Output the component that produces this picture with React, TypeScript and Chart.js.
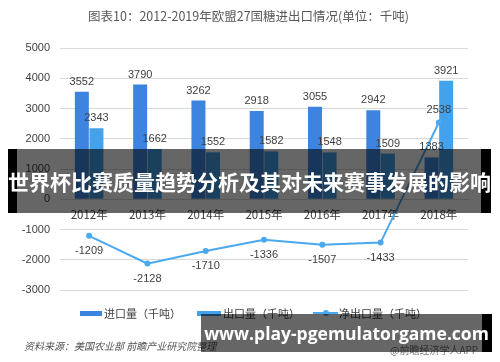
import React, { useEffect, useRef } from "react";
import { Chart, registerables } from "chart.js";

Chart.register(...registerables);

const categories = ["2012年", "2013年", "2014年", "2015年", "2016年", "2017年", "2018年"];
const importValues = [3552, 3790, 3262, 2918, 3055, 2942, 1383];
const exportValues = [2343, 1662, 1552, 1582, 1548, 1509, 3921];
const netExportValues = [-1209, -2128, -1710, -1336, -1507, -1433, 2538];
const seriesNames = ["进口量（千吨）", "出口量（千吨）", "净出口量（千吨）"];
const titleText = "图表10：2012-2019年欧盟27国糖进出口情况(单位：千吨)";
const sourceText = "资料来源：美国农业部 前瞻产业研究院整理";
const bannerText = "世界杯比赛质量趋势分析及其对未来赛事发展的影响";
const siteText = "www.play-pgemulatorgame.com";
const appText = "@前瞻经济学人APP";

const IMPORT_COLOR = "#3c84e0";
const EXPORT_COLOR = "#44a1ec";
const NET_COLOR = "#4aa8ee";
const NUM_FONT = "'Liberation Sans', 'Noto Sans CJK SC', sans-serif";
const CJK_FONT = "'Noto Sans CJK SC', 'Liberation Sans', sans-serif";

const valueLabels = {
  id: "valueLabels",
  afterDatasetsDraw(chart: any) {
    const ctx = chart.ctx;
    ctx.save();
    ctx.font = `11px ${NUM_FONT}`;
    ctx.fillStyle = "#404040";
    ctx.textAlign = "center";
    ctx.textBaseline = "middle";
    chart.data.datasets.forEach((ds: any, i: number) => {
      const meta = chart.getDatasetMeta(i);
      meta.data.forEach((el: any, j: number) => {
        const v = ds.data[j];
        let y;
        if (meta.type === "bar") y = el.y - 10;
        else y = v < 0 ? el.y + 15 : el.y - 13;
        ctx.fillText(String(v), el.x, y);
      });
    });
    ctx.restore();
  },
};

export default function App() {
  const canvasRef = useRef<HTMLCanvasElement | null>(null);

  useEffect(() => {
    document.body.style.margin = "0";
    const chart = new Chart(canvasRef.current as HTMLCanvasElement, {
      type: "bar",
      data: {
        labels: categories,
        datasets: [
          {
            type: "line",
            label: seriesNames[2],
            data: netExportValues,
            borderColor: NET_COLOR,
            backgroundColor: NET_COLOR,
            borderWidth: 2,
            pointRadius: 3,
            pointBackgroundColor: NET_COLOR,
            pointBorderWidth: 0,
            order: 0,
          } as any,
          {
            type: "bar",
            label: seriesNames[0],
            data: importValues,
            backgroundColor: IMPORT_COLOR,
            categoryPercentage: 0.5,
            barPercentage: 0.96,
            order: 1,
          },
          {
            type: "bar",
            label: seriesNames[1],
            data: exportValues,
            backgroundColor: EXPORT_COLOR,
            categoryPercentage: 0.5,
            barPercentage: 0.96,
            order: 1,
          },
        ],
      },
      options: {
        animation: false,
        responsive: false,
        maintainAspectRatio: false,
        layout: { padding: { left: 0, right: 32, top: 48, bottom: 72 } },
        plugins: {
          legend: { display: false },
          title: { display: false },
          tooltip: { enabled: false },
        },
        scales: {
          x: {
            position: { y: 0 } as any,
            grid: { display: false },
            border: { display: true, color: "#d9d9d9" },
            ticks: {
              color: "#404040",
              font: { size: 11.5, family: CJK_FONT },
              padding: 0,
            },
          },
          y: {
            min: -3000,
            max: 5000,
            afterFit: (s: any) => {
              s.width = 60;
            },
            grid: { color: "#d9d9d9", drawTicks: false },
            border: { display: false },
            ticks: {
              stepSize: 1000,
              color: "#404040",
              padding: 10,
              font: { size: 11, family: NUM_FONT },
              callback: (v: any) => String(v),
            },
          },
        },
      },
      plugins: [valueLabels],
    });
    return () => chart.destroy();
  }, []);

  const legendText: React.CSSProperties = {
    position: "absolute",
    top: 305,
    fontSize: 11,
    lineHeight: "16px",
    color: "#404040",
    fontFamily: CJK_FONT,
    whiteSpace: "nowrap",
  };

  return (
    <div style={{ position: "fixed", left: 0, top: 0, width: 500, height: 362, background: "#fff", overflow: "hidden" }}>
      <canvas ref={canvasRef} width={500} height={362} style={{ position: "absolute", left: 0, top: 0 }} />
      <div style={{ position: "absolute", left: 88, top: 8, fontSize: 12.5, lineHeight: "16px", color: "#595959", fontFamily: CJK_FONT, whiteSpace: "nowrap" }}>
        {titleText}
      </div>
      <div style={{ position: "absolute", left: 80, top: 311, width: 22, height: 5, background: IMPORT_COLOR }} />
      <div style={{ ...legendText, left: 104 }}>{seriesNames[0]}</div>
      <div style={{ position: "absolute", left: 197, top: 311, width: 24, height: 5, background: EXPORT_COLOR }} />
      <div style={{ ...legendText, left: 223 }}>{seriesNames[1]}</div>
      <div style={{ position: "absolute", left: 313, top: 312, width: 25, height: 2, background: NET_COLOR }} />
      <div style={{ position: "absolute", left: 323, top: 310, width: 6, height: 6, borderRadius: 3, background: NET_COLOR }} />
      <div style={{ ...legendText, left: 339 }}>{seriesNames[2]}</div>
      <div style={{ position: "absolute", left: 24, top: 339, fontSize: 10, lineHeight: "14px", color: "#555", fontStyle: "italic", fontFamily: CJK_FONT, whiteSpace: "nowrap" }}>
        {sourceText}
      </div>
      <div style={{ position: "absolute", left: 390, top: 343, fontSize: 10, lineHeight: "14px", color: "#777", fontFamily: CJK_FONT, whiteSpace: "nowrap" }}>
        {appText}
      </div>
      <div style={{ position: "absolute", left: 8, top: 149, width: 464, height: 64, background: "rgba(0,0,0,0.6)", borderLeft: "9px solid #000", borderRight: "10px solid #000" }} />
      <div style={{ position: "absolute", left: 8, top: 149, width: 483, height: 64, display: "flex", alignItems: "center", justifyContent: "center", color: "#fff", fontWeight: 700, fontSize: 21, fontFamily: CJK_FONT, whiteSpace: "nowrap" }}>
        {bannerText}
      </div>
      <div style={{ position: "absolute", left: 201, top: 314, width: 281, height: 38, background: "rgba(0,0,0,0.6)", borderRight: "10px solid #000" }} />
      <div style={{ position: "absolute", left: 206, top: 314, width: 281, height: 38, display: "flex", alignItems: "center", justifyContent: "center", color: "#fff", fontWeight: 700, fontSize: 17.5, fontFamily: "'Open Sans', 'DejaVu Sans', sans-serif", whiteSpace: "nowrap" }}>
        {siteText}
      </div>
    </div>
  );
}
